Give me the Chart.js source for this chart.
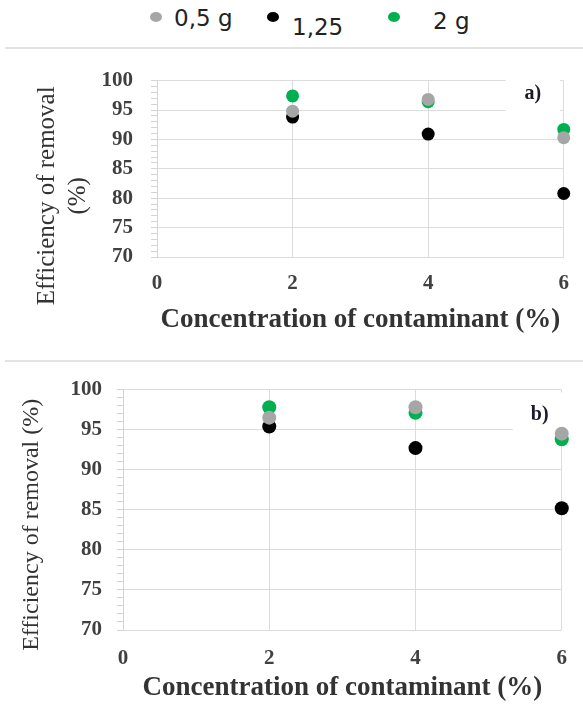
<!DOCTYPE html>
<html>
<head>
<meta charset="utf-8">
<script src="https://cdn.jsdelivr.net/npm/chart.js@4.4.1/dist/chart.umd.min.js"></script>
<style>
  body { margin: 0; background: #fff; width: 583px; height: 707px; position: relative; overflow: hidden; }
  .sep { position: absolute; left: 5px; right: 0; height: 2px; background: #e3e3e3; }
  #legend { position: absolute; top: 0; left: 0; width: 583px; height: 46px; font-family: "DejaVu Sans", sans-serif; font-size: 23px; color: #222; }
  .item { position: absolute; }
  .dot { position: absolute; width: 12px; height: 10px; border-radius: 50%; }
  canvas { position: absolute; left: 0; }
</style>
</head>
<body>
<div id="legend"></div>
<div class="sep" style="top:47px"></div>
<canvas id="chartA" width="583" height="290" style="top:50px"></canvas>
<div class="sep" style="top:360px"></div>
<canvas id="chartB" width="583" height="345" style="top:362px"></canvas>
<script>
// series names and colours
const doses = ['0,5 g', '1,25', '2 g'];
const doseColors = ['#a6a6a6', '#000000', '#00b050'];

// x values (concentration of contaminant, %)
const concentrations = [2, 4, 6];

// panel a) efficiency of removal (%)
const effA_05 = [94.8, 96.8, 90.3];
const effA_125 = [93.8, 90.9, 80.8];
const effA_2 = [97.4, 96.4, 91.7];

// panel b) efficiency of removal (%)
const effB_05 = [96.5, 97.8, 94.5];
const effB_125 = [95.4, 92.7, 85.2];
const effB_2 = [97.8, 97.1, 93.8];

const xTicks = [0, 2, 4, 6];
const yMin = 70, yMax = 100;

// html legend shared by both panels
const legendEl = document.getElementById('legend');
const legendPos = [
  { dot: [150, 12], text: [174, 5] },
  { dot: [267, 12], text: [292, 14] },
  { dot: [388, 12], text: [433, 8] }
];
doses.forEach((d, i) => {
  const dot = document.createElement('div');
  dot.className = 'dot';
  dot.style.background = doseColors[i];
  dot.style.left = legendPos[i].dot[0] + 'px';
  dot.style.top = legendPos[i].dot[1] + 'px';
  legendEl.appendChild(dot);
  const t = document.createElement('div');
  t.className = 'item';
  t.textContent = d;
  t.style.left = legendPos[i].text[0] + 'px';
  t.style.top = legendPos[i].text[1] + 'px';
  legendEl.appendChild(t);
});

const serif = "'Liberation Serif', 'Times New Roman', serif";

function makeData(series, radius) {
  return {
    datasets: series.map((vals, i) => ({
      label: doses[i],
      data: concentrations.map((c, j) => ({ x: c, y: vals[j] })),
      backgroundColor: doseColors[i],
      borderColor: doseColors[i],
      pointRadius: radius,
      pointHoverRadius: radius,
      borderWidth: 0,
      clip: false
    }))
  };
}

// white box with the panel letter, drawn over the grid
function panelLabel(text, dx, dy) {
  return {
    id: 'panelLabel',
    beforeDatasetsDraw(chart) {
      const { ctx, chartArea } = chart;
      const x = chartArea.right + dx;
      const y = chartArea.top + dy;
      ctx.save();
      ctx.fillStyle = '#fff';
      ctx.fillRect(x - 27, y - 22, 54, 42);
      ctx.fillStyle = '#1a1a2a';
      ctx.font = "bold 20px " + serif;
      ctx.textAlign = 'center';
      ctx.textBaseline = 'middle';
      ctx.fillText(text, x, y);
      ctx.restore();
    }
  };
}

// y axis title, sits a bit lower than the plot centre in the original
function yTitle(lines, size, x0, lineGap, dy) {
  return {
    id: 'yTitle',
    afterDraw(chart) {
      const { ctx, chartArea } = chart;
      const cy = (chartArea.top + chartArea.bottom) / 2 + dy;
      ctx.save();
      ctx.fillStyle = '#333';
      ctx.font = size + 'px ' + serif;
      ctx.textAlign = 'center';
      ctx.textBaseline = 'middle';
      lines.forEach((line, i) => {
        ctx.save();
        ctx.translate(x0 + i * lineGap, cy);
        ctx.rotate(-Math.PI / 2);
        ctx.fillText(line, 0, 0);
        ctx.restore();
      });
      ctx.restore();
    }
  };
}

function makeOptions(cfg) {
  return {
    responsive: false,
    animation: false,
    layout: { padding: { left: 0, right: cfg.padRight, top: cfg.padTop, bottom: 0 } },
    plugins: { legend: { display: false }, tooltip: { enabled: false } },
    scales: {
      x: {
        type: 'linear',
        min: xTicks[0],
        max: xTicks[xTicks.length - 1],
        afterBuildTicks: s => { s.ticks = xTicks.map(v => ({ value: v })); },
        ticks: { font: { family: serif, size: 21, weight: 'bold' }, color: '#404040', padding: cfg.xTickPad, maxRotation: 0 },
        grid: { color: c => c.tick && c.tick.value === 0 ? 'rgba(0,0,0,0)' : '#dcdcdc', drawTicks: false },
        border: { display: false },
        title: { display: true, text: 'Concentration of contaminant (%)', font: { family: serif, size: 27, weight: 'bold' }, color: '#333', padding: { top: 0, bottom: cfg.xTitlePad } },
        afterFit: s => { s.height = cfg.xHeight; }
      },
      y: {
        min: yMin,
        max: yMax,
        ticks: {
          stepSize: 1,
          autoSkip: false,
          callback: v => (v % 5 === 0 ? v : ''),
          font: { family: serif, size: 21, weight: 'bold' },
          color: '#404040',
          padding: cfg.yTickPad
        },
        grid: {
          color: c => (c.tick && c.tick.value % 5 === 0 ? '#dcdcdc' : 'rgba(0,0,0,0)'),
          tickColor: '#d4d4d4',
          tickLength: 6
        },
        border: { color: '#d4d4d4' },
        afterFit: s => { s.width = cfg.yWidth; }
      }
    }
  };
}

new Chart(document.getElementById('chartA'), {
  type: 'scatter',
  data: makeData([effA_05, effA_125, effA_2], 6.5),
  options: makeOptions({
    padRight: 19, padTop: 27, xTickPad: 14, xTitlePad: 4, xHeight: 83,
    yTickPad: 18, yWidth: 157
  }),
  plugins: [panelLabel('a)', -31, 13), yTitle(['Efficiency of removal', '(%)'], 25, 47, 31, 27)]
});

new Chart(document.getElementById('chartB'), {
  type: 'scatter',
  data: makeData([effB_05, effB_125, effB_2], 7),
  options: makeOptions({
    padRight: 18, padTop: 25, xTickPad: 16, xTitlePad: 3, xHeight: 77,
    yTickPad: 15, yWidth: 123
  }),
  plugins: [panelLabel('b)', -22, 25), yTitle(['Efficiency of removal (%)'], 24, 32, 0, 15)]
});
</script>
</body>
</html>
